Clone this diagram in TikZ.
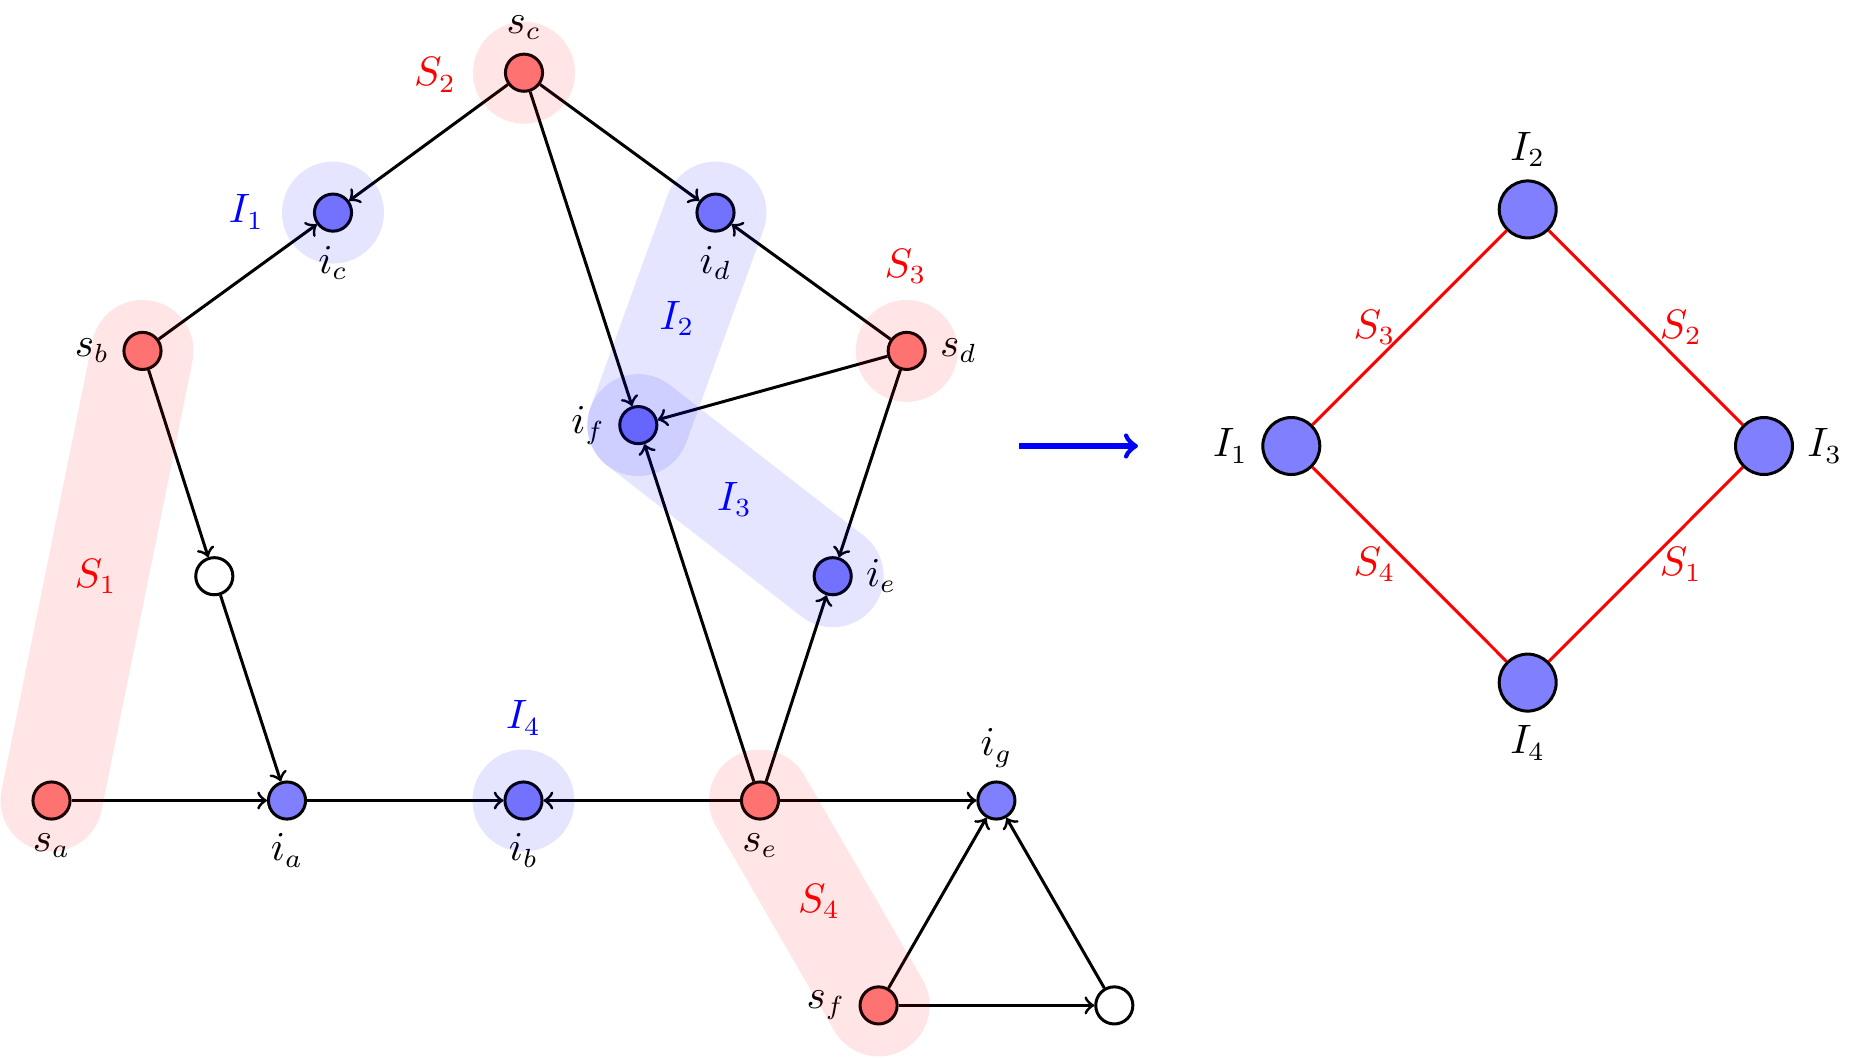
\documentclass[tikz,border=0pt]{standalone}
\begin{document}
\begin{tikzpicture}[x=0.2667pt,y=-0.2667pt,
  every node/.style={font=\fontsize{10.5}{12.6}\selectfont},
  every label/.style={font=\fontsize{10.5}{12.6}\selectfont},
  base/.style={circle,draw,thick,minimum size=9.9pt,inner sep=0pt},
  snode/.style={base,fill=red!50},
  inode/.style={base,fill=blue!50},
  wnode/.style={base,fill=white},
  bignode/.style={circle,draw,thick,fill=blue!50,minimum size=15.2pt,inner sep=0pt},
  conn/.style={->,thick},
  rline/.style={red,thick},
  redband/.style={draw=red,draw opacity=0.1,line width=27.2pt,line cap=round},
  blueband/.style={draw=blue,draw opacity=0.1,line width=27.2pt,line cap=round},
  redspot/.style={fill=red,fill opacity=0.1},
  bluespot/.style={fill=blue,fill opacity=0.1},
  rlab/.style={text=red},
  blab/.style={text=blue}]
\useasboundingbox (0,0) rectangle (1862,1058);
% nodes of the left graph
\node[snode,label=above:$s_c$] (sc) at (524,72.7) {};
\node[inode,label=below:$i_c$] (ic) at (333,212.6) {};
\node[inode,label=below:$i_d$] (id) at (715.5,212.6) {};
\node[snode,label=left:$s_b$] (sb) at (142.5,350.9) {};
\node[snode,label=right:$s_d$] (sd) at (906.7,350.9) {};
\node[inode,label=left:$i_f$] (if) at (638.3,425.1) {};
\node[wnode] (w1) at (214.3,576.2) {};
\node[inode,label=right:$i_e$] (ie) at (832.7,576.2) {};
\node[snode,label=below:$s_a$] (sa) at (51.5,800.5) {};
\node[inode,label=below:$i_a$] (ia) at (287,800.5) {};
\node[inode,label=below:$i_b$] (ib) at (523.5,800.5) {};
\node[snode,label=below:$s_e$] (se) at (760,800.5) {};
\node[inode,label=above:$i_g$] (ig) at (996.4,800.5) {};
\node[snode,label=left:$s_f$] (sf) at (878.6,1005.4) {};
\node[wnode] (w2) at (1114.3,1005.4) {};
% connectors
\draw[conn] (sc) -- (ic);
\draw[conn] (sc) -- (id);
\draw[conn] (sc) -- (if);
\draw[conn] (sb) -- (ic);
\draw[conn] (sb) -- (w1);
\draw[conn] (w1) -- (ia);
\draw[conn] (sd) -- (id);
\draw[conn] (sd) -- (if);
\draw[conn] (sd) -- (ie);
\draw[conn] (se) -- (if);
\draw[conn] (se) -- (ie);
\draw[conn] (sa) -- (ia);
\draw[conn] (ia) -- (ib);
\draw[conn] (se) -- (ib);
\draw[conn] (se) -- (ig);
\draw[conn] (sf) -- (ig);
\draw[conn] (sf) -- (w2);
\draw[conn] (w2) -- (ig);
% halos
\draw[redband] (sa.center) -- (sb.center);
\draw[redband] (se.center) -- (sf.center);
\fill[redspot] (sc.center) circle[radius=13.6pt];
\fill[redspot] (sd.center) circle[radius=13.6pt];
\draw[blueband] (id.center) -- (if.center);
\draw[blueband] (if.center) -- (ie.center);
\fill[bluespot] (ic.center) circle[radius=13.6pt];
\fill[bluespot] (ib.center) circle[radius=13.6pt];
% group labels
\node[rlab] (lS1) at (95.7,576.2) {$S_1$};
\node[rlab] (lS2) at (435,75) {$S_2$};
\node[rlab] (lS3) at (905.5,266.5) {$S_3$};
\node[rlab] (lS4) at (819,901.8) {$S_4$};
\node[blab] (lI1) at (246.4,211.9) {$I_1$};
\node[blab] (lI2) at (677,318.8) {$I_2$};
\node[blab] (lI3) at (734.5,499.4) {$I_3$};
\node[blab] (lI4) at (523.5,718) {$I_4$};
% transformation arrow
\coordinate (a0) at (1019,446);
\coordinate (a1) at (1138,446);
\draw[->,blue,line width=1.4pt] (a0) -- (a1);
% right graph
\node[bignode,label=left:$I_1$] (J1) at (1291.3,446) {};
\node[bignode,label=above:$I_2$] (J2) at (1527.7,209.4) {};
\node[bignode,label=right:$I_3$] (J3) at (1764,446) {};
\node[bignode,label=below:$I_4$] (J4) at (1527.7,682.6) {};
\draw[rline] (J1) -- node[left,text=red] {$S_3$} (J2);
\draw[rline] (J2) -- node[right,text=red] {$S_2$} (J3);
\draw[rline] (J1) -- node[left,text=red] {$S_4$} (J4);
\draw[rline] (J4) -- node[right,text=red] {$S_1$} (J3);
\end{tikzpicture}
\end{document}
